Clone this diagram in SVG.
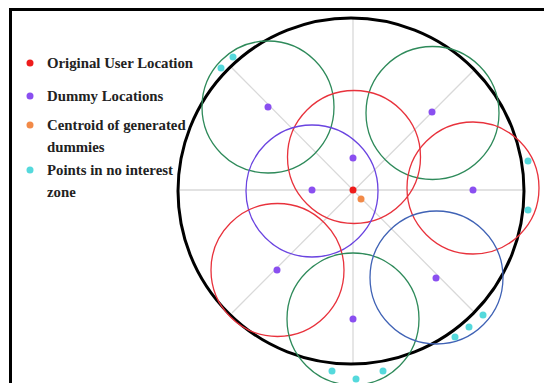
<svg xmlns="http://www.w3.org/2000/svg" width="544" height="383" viewBox="0 0 544 383">
<style>
.lbl{font-family:"Liberation Serif","Times New Roman",serif;font-weight:bold;font-size:14.8px;fill:#222}
.g{fill:none;stroke:#d9d9d9;stroke-width:1.3}
.c{fill:none;stroke-width:1.3}
.red{stroke:#e8323c}.grn{stroke:#2e8a5a}.pur{stroke:#6a44e0}.blu{stroke:#3f62b5}
.dr{fill:#ee1c1c}.dp{fill:#8a4ff0}.do{fill:#f28a48}.dc{fill:#55d9dc}
</style>
<rect x="0" y="0" width="544" height="383" fill="#fff"/>
<rect x="10.5" y="9.5" width="600" height="400" fill="none" stroke="#000" stroke-width="3"/>
<g id="guides">
<line class="g" x1="180" y1="190" x2="524" y2="190"/>
<line class="g" x1="353" y1="17" x2="353" y2="365"/>
<line class="g" x1="232" y1="68" x2="474" y2="312"/>
<line class="g" x1="474" y1="70" x2="232" y2="313"/>
</g>
<g id="boundary"><circle cx="351" cy="191" r="173" fill="none" stroke="#000" stroke-width="3"/></g>
<g id="zones">
<circle class="c grn" cx="268" cy="107" r="66"/>
<circle class="c grn" cx="432.5" cy="113" r="66.5"/>
<circle class="c red" cx="354" cy="157" r="66.5"/>
<circle class="c pur" cx="312" cy="191" r="66"/>
<circle class="c red" cx="473" cy="188" r="66"/>
<circle class="c red" cx="277.5" cy="270" r="66.5"/>
<circle class="c grn" cx="353" cy="319" r="66"/>
<circle class="c blu" cx="436.5" cy="277.5" r="66.5"/>
</g>
<g id="points">
<circle class="dp" cx="268" cy="107" r="3.5"/>
<circle class="dp" cx="432" cy="112" r="3.5"/>
<circle class="dp" cx="353" cy="158" r="3.5"/>
<circle class="dp" cx="312" cy="190" r="3.5"/>
<circle class="dp" cx="473" cy="190" r="3.5"/>
<circle class="dp" cx="277" cy="270" r="3.5"/>
<circle class="dp" cx="353" cy="319" r="3.5"/>
<circle class="dp" cx="436" cy="278" r="3.5"/>
<circle class="dr" cx="353" cy="190" r="3.5"/>
<circle class="do" cx="361" cy="199" r="3.5"/>
<circle class="dc" cx="221" cy="68" r="3.5"/>
<circle class="dc" cx="233" cy="57" r="3.5"/>
<circle class="dc" cx="528" cy="161" r="3.5"/>
<circle class="dc" cx="528" cy="210" r="3.5"/>
<circle class="dc" cx="483" cy="315" r="3.5"/>
<circle class="dc" cx="469" cy="327" r="3.5"/>
<circle class="dc" cx="455" cy="337" r="3.5"/>
<circle class="dc" cx="383" cy="371" r="3.5"/>
<circle class="dc" cx="332" cy="371" r="3.5"/>
<circle class="dc" cx="356" cy="379" r="3.5"/>
</g>
<g id="legend">
<circle class="dr" cx="30" cy="63" r="3.5"/>
<text class="lbl" x="47" y="68">Original User Location</text>
<circle class="dp" cx="30" cy="96" r="3.5"/>
<text class="lbl" x="47" y="101">Dummy Locations</text>
<circle class="do" cx="30" cy="125" r="3.5"/>
<text class="lbl" x="47" y="130">Centroid of generated</text>
<text class="lbl" x="47" y="152">dummies</text>
<circle class="dc" cx="30" cy="170" r="3.5"/>
<text class="lbl" x="47" y="175">Points in no interest</text>
<text class="lbl" x="47" y="197">zone</text>
</g>
</svg>
